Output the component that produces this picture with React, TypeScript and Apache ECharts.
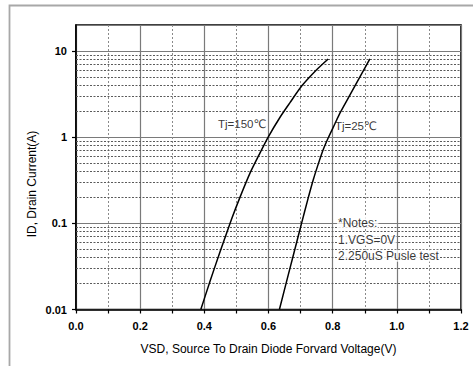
import React, { useEffect, useRef } from 'react';
import * as echarts from 'echarts';

// X axis (V) and Y axis (A) ranges
const xMin = 0;
const xMax = 1.2;
const yMin = 0.01;
const yMax = 20;
const yDecades = [0.01, 0.1, 1];
const minorMultipliers = [2, 3, 4, 5, 6, 7, 8, 9];

// Curves: [VSD (V), ID (A)]
const tj150: [number, number][] = [
  [0.389, 0.01], [0.418, 0.0214], [0.449, 0.0468], [0.485, 0.112], [0.511, 0.2],
  [0.542, 0.38], [0.570, 0.617], [0.599, 1.0], [0.636, 1.70], [0.667, 2.51],
  [0.704, 3.94], [0.750, 6.05], [0.786, 8.07],
];
const tj25: [number, number][] = [
  [0.634, 0.01], [0.667, 0.0302], [0.683, 0.0513], [0.703, 0.1], [0.722, 0.186],
  [0.740, 0.324], [0.757, 0.513], [0.771, 0.724], [0.786, 0.977], [0.807, 1.43],
  [0.823, 1.91], [0.854, 3.09], [0.885, 5.01], [0.916, 8.07],
];

// Annotations anchored in data coordinates
const curveLabels = [
  { name: 'Tj=150℃', value: [0.4426, 1.41] },
  { name: 'Tj=25℃', value: [0.807, 1.346] },
];
const noteLines = [
  { name: '*Notes:', value: [0.8136, 0.1007] },
  { name: '1.VGS=0V', value: [0.8136, 0.0643] },
  { name: '2.250uS Pusle test', value: [0.8136, 0.0421] },
];
const yTitle = 'ID, Drain Current(A)';
const xTitle = 'VSD, Source To Drain Diode Forvard Voltage(V)';

const FONT = '"Liberation Sans", Arial, "DejaVu Sans", sans-serif';

export default function App() {
  const ref = useRef<HTMLDivElement>(null);
  useEffect(() => {
    document.body.style.margin = '0';
    const chart = echarts.init(ref.current!, null, { renderer: 'svg' });
    const minorY: number[] = [];
    yDecades.forEach((d) => minorMultipliers.forEach((m) => minorY.push(parseFloat((d * m).toPrecision(3)))));
    const isDecade = (v: number) => {
      const l = Math.log10(v);
      return Math.abs(l - Math.round(l)) < 1e-6;
    };
    chart.setOption({
      animation: false,
      backgroundColor: '#fff',
      textStyle: { fontFamily: FONT },
      graphic: [
        {
          type: 'rect',
          shape: { x: 9.5, y: 5.5, width: 600, height: 600 },
          style: { fill: 'none', stroke: '#a8a8a8', lineWidth: 1.8 },
          z: 0,
        },
        {
          type: 'text', x: 32, y: 184, rotation: Math.PI / 2,
          style: { text: yTitle, fontSize: 12, fill: '#000', fontFamily: FONT, align: 'center', verticalAlign: 'middle' },
          z: 10,
        },
      ],
      grid: {
        left: 76, right: 12, top: 25, bottom: 56.5,
        show: true, borderColor: '#000', borderWidth: 1.6, backgroundColor: 'transparent',
        containLabel: false, outerBoundsMode: 'none',
      },
      xAxis: {
        type: 'value', min: xMin, max: xMax, interval: 0.2,
        name: xTitle,
        nameLocation: 'middle', nameGap: 33,
        nameTextStyle: { fontSize: 12, color: '#000', fontFamily: FONT },
        axisLine: { show: true, lineStyle: { color: '#000', width: 1.6 } },
        axisTick: { show: true, inside: false, length: 4, lineStyle: { color: '#000', width: 1.2 } },
        minorTick: { show: true, splitNumber: 2, length: 4, lineStyle: { color: '#000', width: 1.2 } },
        axisLabel: {
          fontSize: 11, fontWeight: 'bold', color: '#000', margin: 11, fontFamily: FONT,
          formatter: (v: number) => v.toFixed(1),
        },
        splitLine: { show: true, lineStyle: { color: '#7a7a7a', width: 1.2 } },
        minorSplitLine: { show: true, lineStyle: { color: '#8a8a8a', width: 1, type: [2, 2] } },
      },
      yAxis: {
        type: 'log', logBase: 10, min: yMin, max: yMax,
        axisLine: { show: true, lineStyle: { color: '#000', width: 1.6 } },
        axisTick: { show: true, inside: false, length: 4, lineStyle: { color: '#000', width: 1.2 } },
        axisLabel: {
          fontSize: 11, fontWeight: 'bold', color: '#000', margin: 9, fontFamily: FONT,
          showMaxLabel: false,
          formatter: (v: number) => (isDecade(v) ? String(parseFloat(v.toPrecision(3))) : ''),
        },
        splitLine: { show: true, lineStyle: { color: '#7a7a7a', width: 1.2 } },
      },
      series: [
        {
          type: 'line', data: [[0.5, 1]], symbol: 'none', silent: true, z: 1,
          lineStyle: { width: 0, opacity: 0 },
          markLine: {
            silent: true, symbol: 'none', label: { show: false }, animation: false,
            lineStyle: { color: '#5a5a5a', width: 1, type: [2, 1.5] },
            data: minorY.map((v) => ({ yAxis: v })),
          },
        },
        {
          type: 'line', data: tj150, showSymbol: false, symbol: 'none', smooth: 0.25, z: 5,
          lineStyle: { color: '#000', width: 1.5 },
        },
        {
          type: 'line', data: tj25, showSymbol: false, symbol: 'none', smooth: 0.25, z: 5,
          lineStyle: { color: '#000', width: 1.5 },
        },
        {
          type: 'scatter', data: curveLabels, symbolSize: 0, z: 6, silent: true,
          label: {
            show: true, position: 'right', distance: 0, formatter: '{b}',
            fontSize: 11.5, color: '#000', fontFamily: FONT,
          },
        },
        {
          type: 'scatter', data: noteLines, symbolSize: 0, z: 6, silent: true,
          label: {
            show: true, position: 'right', distance: 0, formatter: '{b}',
            fontSize: 12, color: '#000', fontFamily: FONT, backgroundColor: '#fff', padding: [0, 1],
          },
        },
      ],
    });
    return () => chart.dispose();
  }, []);
  return <div ref={ref} style={{ width: 473, height: 366 }} />;
}
